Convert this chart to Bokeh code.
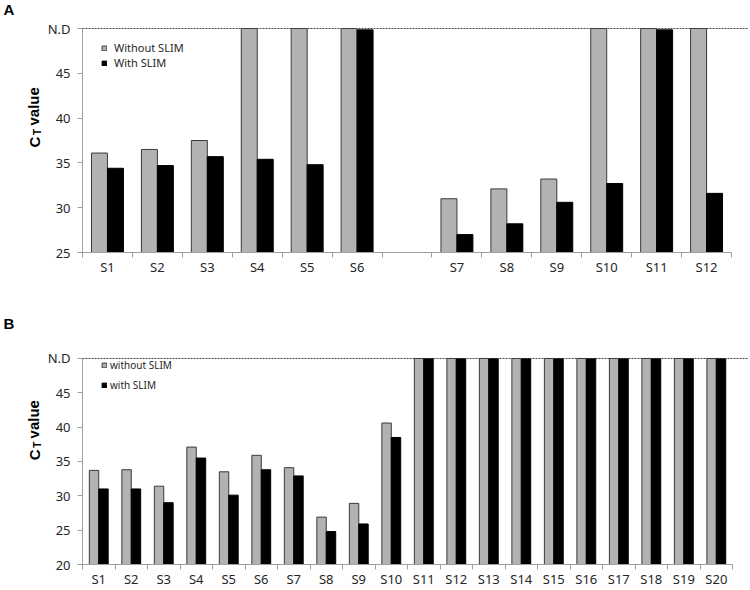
import numpy as np
from bokeh.plotting import figure
from bokeh.models import (FixedTicker, Span, Label, Legend, LegendItem,
                          ColumnDataSource, Range1d)
from bokeh.layouts import column, row
from bokeh.transform import dodge
from bokeh.embed import file_html
from bokeh.resources import INLINE

# ---------------- data ----------------
cats_a = ["S1", "S2", "S3", "S4", "S5", "S6", "", "S7", "S8", "S9", "S10", "S11", "S12"]
without_a = [36.1, 36.5, 37.5, 50, 50, 50, np.nan, 31.0, 32.1, 33.2, 50, 50, 50]
with_a = [34.4, 34.7, 35.7, 35.4, 34.8, 49.85, np.nan, 27.0, 28.2, 30.6, 32.7, 49.85, 31.6]
yticks_a = [25, 30, 35, 40, 45, 50]
ylabels_a = ["25", "30", "35", "40", "45", "N.D"]
legend_a = ["Without SLIM", "With SLIM"]

cats_b = ["S1", "S2", "S3", "S4", "S5", "S6", "S7", "S8", "S9", "S10",
          "S11", "S12", "S13", "S14", "S15", "S16", "S17", "S18", "S19", "S20"]
without_b = [33.7, 33.8, 31.4, 37.1, 33.5, 35.9, 34.1, 26.9, 28.9, 40.6,
             50, 50, 50, 50, 50, 50, 50, 50, 50, 50]
with_b = [31.0, 31.0, 29.0, 35.5, 30.1, 33.8, 32.9, 24.8, 25.9, 38.5,
          50, 50, 50, 50, 50, 50, 50, 50, 50, 50]
yticks_b = [20, 25, 30, 35, 40, 45, 50]
ylabels_b = ["20", "25", "30", "35", "40", "45", "N.D"]
legend_b = ["without SLIM", "with SLIM"]

GRAY = "#b2b2b2"
EDGE = "#3a3a3a"
AXIS = "#a0a0a0"
TXT = "#262626"
FONT = "Noto Sans"
SIDE_W = 44
MAIN_W = 750 - SIDE_W


def side(height, page_top, frame_bottom, letter, letter_y):
    # its frame is aligned with the main panel's frame: data y == page y
    s = figure(width=SIDE_W, height=height, output_backend="svg", toolbar_location=None,
               x_range=Range1d(0, SIDE_W), y_range=Range1d(frame_bottom, page_top),
               x_axis_location=None, y_axis_location=None, title=None,
               min_border_left=0, min_border_right=0, min_border_top=0, min_border_bottom=0)
    s.outline_line_color = None
    s.xgrid.visible = False
    s.ygrid.visible = False
    common = dict(angle=90, angle_units="deg", text_font="Liberation Sans",
                  text_font_style="bold", text_align="left",
                  text_baseline="middle", text_color="black")
    s.add_layout(Label(x=33.8, y=frame_bottom - 105, text="C", text_font_size="15px", **common))
    s.add_layout(Label(x=37.0, y=frame_bottom - 117.5, text="T", text_font_size="10px", **common))
    s.add_layout(Label(x=33.3, y=frame_bottom - 127, text="value", text_font_size="15px", **common))
    s.add_layout(Label(x=3, y=letter_y, text=letter, text_font="Liberation Sans",
                       text_font_style="bold", text_font_size="15px", text_align="left",
                       text_baseline="top", text_color="black"))
    return s


def panel(cats, wo, wi, yticks, ylabels, ymin, ytop, xend, height,
          bbottom, bar_w, leg_labels, leg_font, leg_h, leg_vy, leg_standoff):
    n = len(cats)
    xs = np.arange(n) + 0.5
    src = ColumnDataSource(dict(x=xs, wo=wo, wi=wi))
    p = figure(width=MAIN_W, height=height, output_backend="svg", toolbar_location=None,
               x_range=Range1d(0, xend), y_range=Range1d(ymin, ytop), title=None,
               min_border_left=79 - SIDE_W, min_border_right=2,
               min_border_top=0, min_border_bottom=bbottom)
    p.outline_line_color = None
    p.xgrid.visible = False
    p.ygrid.visible = False

    r1 = p.vbar(x=dodge("x", -bar_w / 2), top="wo", bottom=ymin, width=bar_w,
                source=src, fill_color=GRAY, line_color=EDGE, line_width=1)
    r2 = p.vbar(x=dodge("x", bar_w / 2), top="wi", bottom=ymin, width=bar_w,
                source=src, fill_color="black", line_color="black", line_width=1)

    p.add_layout(Span(location=yticks[-1], dimension="width", line_color="#444444",
                      line_dash="2 1", line_width=1))

    # x axis: labels at centres, small ticks at category boundaries
    centers = [float(x) for x, c in zip(xs, cats) if c]
    xa = p.xaxis[0]
    xa.ticker = FixedTicker(ticks=centers, minor_ticks=list(range(n + 1)))
    xa.major_label_overrides = {float(x): c for x, c in zip(xs, cats) if c}
    xa.bounds = (0, n)
    xa.axis_line_color = AXIS
    xa.major_tick_line_color = None
    xa.major_tick_out = 0
    xa.major_tick_in = 0
    xa.minor_tick_line_color = AXIS
    xa.minor_tick_out = 5
    xa.minor_tick_in = 0
    xa.major_label_standoff = 0
    xa.major_label_text_font = FONT
    xa.major_label_text_font_size = "13px"
    xa.major_label_text_color = TXT

    ya = p.yaxis[0]
    ya.ticker = FixedTicker(ticks=yticks, minor_ticks=[])
    ya.major_label_overrides = {float(t): l for t, l in zip(yticks, ylabels)}
    ya.bounds = (yticks[0], yticks[-1])
    ya.axis_line_color = AXIS
    ya.major_tick_line_color = AXIS
    ya.major_tick_out = 5
    ya.major_tick_in = 0
    ya.minor_tick_line_color = None
    ya.major_label_standoff = 7
    ya.major_label_text_font = FONT
    ya.major_label_text_font_size = "13px"
    ya.major_label_text_color = TXT

    leg = Legend(items=[LegendItem(label=leg_labels[0], renderers=[r1]),
                        LegendItem(label=leg_labels[1], renderers=[r2])],
                 location=(19, leg_vy), padding=0, margin=0, spacing=0,
                 border_line_color=None, background_fill_alpha=0,
                 glyph_width=6, glyph_height=6, label_standoff=leg_standoff,
                 label_height=leg_h, label_text_font=FONT,
                 label_text_font_size=leg_font, label_text_color=TXT)
    p.add_layout(leg)
    return p


# panel A: page rows 0..290, frame 0..252 (25 -> 252 px, 50 -> 28 px)
pA = panel(cats_a, without_a, with_a, yticks_a, ylabels_a, 25, 53.125, 13.34,
           290, 38, 0.32, legend_a, "11px", 14, 182, 7)
sA = side(290, 0, 252, "A", 0.5)
# panel B: page rows 290..590, frame 290..566 (20 -> 566 px, 50 -> 358.5 px)
pB = panel(cats_b, without_b, with_b, yticks_b, ylabels_b, 20, 59.9, 20.49,
           300, 24, 0.29, legend_b, "10px", 20, 169, 3)
sB = side(300, 290, 566, "B", 314.5)

layout = column(row(sA, pA, spacing=0), row(sB, pB, spacing=0), spacing=0)
open("out.html", "w").write(file_html(layout, INLINE))
